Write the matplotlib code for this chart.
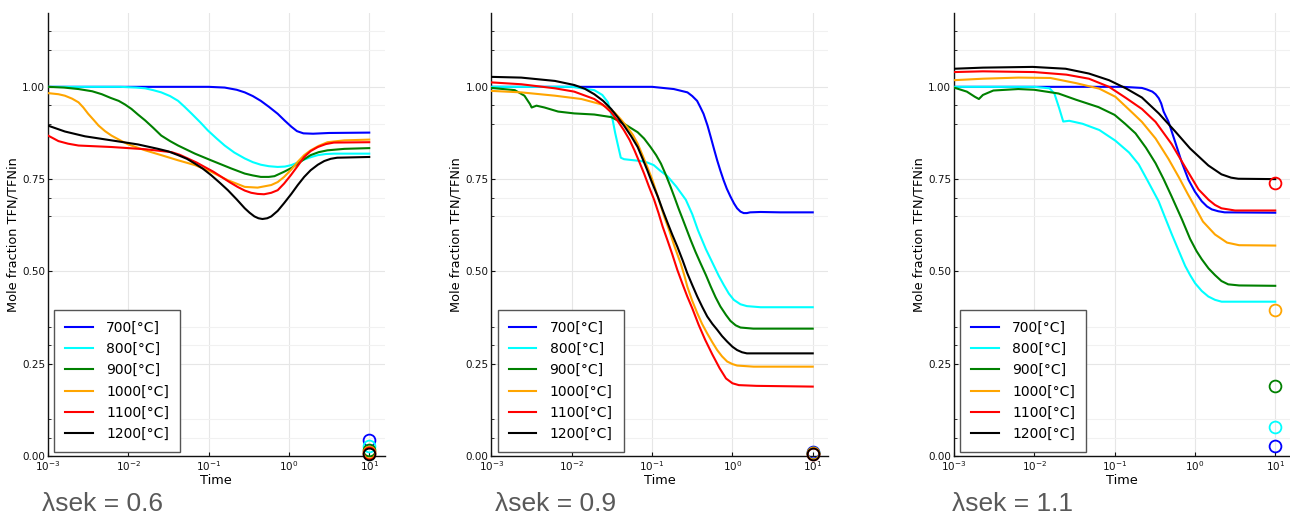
import matplotlib
matplotlib.use("Agg")
import matplotlib.pyplot as plt
import numpy as np
from matplotlib.ticker import NullLocator, FixedLocator

# 温度系列与颜色
TEMPS = ["700[°C]", "800[°C]", "900[°C]", "1000[°C]", "1100[°C]", "1200[°C]"]
COLORS = ["#0000ff", "#00ffff", "#008000", "#ffa500", "#ff0000", "#000000"]
LAMBDAS = ["0.6", "0.9", "1.1"]

# 曲线数据: (log10(time), TFN/TFNin)
# ---- λsek = 0.6 ----
L06_700 = [(-3, 1.0), (-1.0, 1.0), (-0.8, 0.998), (-0.65, 0.992), (-0.55, 0.985), (-0.45, 0.975),
           (-0.35, 0.962), (-0.25, 0.946), (-0.14, 0.927), (-0.05, 0.908), (0.03, 0.892), (0.1, 0.88),
           (0.18, 0.874), (0.3, 0.873), (0.5, 0.875), (1.0, 0.876)]
L06_800 = [(-3, 1.0), (-2.1, 1.0), (-1.9, 0.998), (-1.79, 0.996), (-1.69, 0.991), (-1.59, 0.985),
           (-1.48, 0.975), (-1.38, 0.962), (-1.3, 0.946), (-1.21, 0.927), (-1.1, 0.903), (-1.01, 0.882),
           (-0.9, 0.86), (-0.8, 0.841), (-0.68, 0.822), (-0.55, 0.806), (-0.45, 0.796), (-0.35, 0.789),
           (-0.25, 0.785), (-0.14, 0.783), (-0.05, 0.784), (0.03, 0.788), (0.11, 0.795), (0.19, 0.803),
           (0.28, 0.81), (0.36, 0.815), (0.46, 0.818), (0.56, 0.819), (1.0, 0.819)]
L06_900 = [(-3, 1.0), (-2.8, 0.998), (-2.62, 0.994), (-2.45, 0.988), (-2.33, 0.98), (-2.22, 0.97),
           (-2.12, 0.962), (-2.04, 0.952), (-1.96, 0.94), (-1.88, 0.925), (-1.79, 0.909), (-1.69, 0.889),
           (-1.59, 0.868), (-1.48, 0.853), (-1.38, 0.841), (-1.17, 0.819), (-0.97, 0.801), (-0.72, 0.779),
           (-0.55, 0.765), (-0.45, 0.76), (-0.35, 0.756), (-0.25, 0.756), (-0.18, 0.758), (-0.06, 0.77),
           (0.03, 0.78), (0.11, 0.792), (0.19, 0.804), (0.27, 0.815), (0.37, 0.823), (0.48, 0.828),
           (0.69, 0.832), (1.0, 0.834)]
L06_1000 = [(-3, 0.983), (-2.87, 0.98), (-2.79, 0.976), (-2.7, 0.968), (-2.62, 0.958), (-2.56, 0.944),
            (-2.5, 0.927), (-2.43, 0.91), (-2.37, 0.895), (-2.29, 0.88), (-2.21, 0.868), (-2.1, 0.855),
            (-2.0, 0.844), (-1.79, 0.828), (-1.59, 0.815), (-1.38, 0.801), (-1.17, 0.788), (-0.97, 0.77),
            (-0.76, 0.747), (-0.55, 0.729), (-0.39, 0.727), (-0.22, 0.734), (-0.14, 0.742), (-0.06, 0.756),
            (0.03, 0.776), (0.11, 0.797), (0.19, 0.815), (0.27, 0.828), (0.37, 0.84), (0.48, 0.85),
            (0.69, 0.855), (1.0, 0.857)]
L06_1100 = [(-3, 0.868), (-2.93, 0.86), (-2.87, 0.853), (-2.75, 0.846), (-2.62, 0.841), (-2.21, 0.837),
            (-1.79, 0.831), (-1.46, 0.823), (-1.36, 0.816), (-1.26, 0.806), (-1.15, 0.795), (-1.05, 0.783),
            (-0.94, 0.77), (-0.84, 0.756), (-0.74, 0.742), (-0.64, 0.729), (-0.55, 0.719), (-0.47, 0.713),
            (-0.39, 0.71), (-0.31, 0.709), (-0.22, 0.713), (-0.14, 0.72), (-0.06, 0.738), (0.025, 0.761),
            (0.11, 0.786), (0.19, 0.81), (0.27, 0.826), (0.36, 0.837), (0.46, 0.845), (0.56, 0.849),
            (1.0, 0.85)]
L06_1200 = [(-3, 0.895), (-2.79, 0.879), (-2.54, 0.866), (-2.21, 0.855), (-1.88, 0.844), (-1.63, 0.832),
            (-1.5, 0.825), (-1.38, 0.815), (-1.27, 0.805), (-1.17, 0.792), (-1.07, 0.778), (-0.97, 0.761),
            (-0.86, 0.74), (-0.76, 0.72), (-0.65, 0.695), (-0.55, 0.671), (-0.49, 0.659), (-0.43, 0.649),
            (-0.38, 0.644), (-0.33, 0.642), (-0.27, 0.644), (-0.22, 0.649), (-0.14, 0.664), (-0.06, 0.685),
            (0.03, 0.71), (0.11, 0.734), (0.19, 0.756), (0.27, 0.774), (0.36, 0.789), (0.44, 0.799),
            (0.52, 0.805), (0.6, 0.808), (1.0, 0.81)]
END06 = [0.043, 0.028, 0.017, 0.012, 0.008, 0.006]

# ---- λsek = 0.9 ----
L09_700 = [(-3, 1.0), (-1.0, 1.0), (-0.73, 0.994), (-0.56, 0.985), (-0.5, 0.975), (-0.44, 0.962),
           (-0.4, 0.945), (-0.36, 0.927), (-0.31, 0.895), (-0.27, 0.864), (-0.23, 0.832), (-0.19, 0.801),
           (-0.15, 0.773), (-0.11, 0.747), (-0.07, 0.724), (-0.025, 0.703), (0.02, 0.684), (0.058, 0.671),
           (0.1, 0.662), (0.14, 0.658), (0.18, 0.658), (0.22, 0.66), (0.35, 0.661), (0.6, 0.66), (1.0, 0.66)]
L09_800 = [(-3, 1.0), (-2.0, 1.0), (-1.72, 0.991), (-1.62, 0.978), (-1.55, 0.958), (-1.52, 0.935),
           (-1.49, 0.909), (-1.46, 0.875), (-1.43, 0.846), (-1.39, 0.808), (-1.35, 0.804), (-1.31, 0.803),
           (-1.14, 0.799), (-1.06, 0.795), (-0.98, 0.788), (-0.9, 0.773), (-0.81, 0.758), (-0.7, 0.73),
           (-0.58, 0.694), (-0.5, 0.655), (-0.43, 0.612), (-0.33, 0.56), (-0.23, 0.515), (-0.17, 0.488),
           (-0.107, 0.463), (-0.045, 0.44), (0.017, 0.423), (0.1, 0.411), (0.18, 0.406), (0.35, 0.403),
           (1.0, 0.403)]
L09_900 = [(-3, 0.997), (-2.71, 0.991), (-2.59, 0.976), (-2.52, 0.953), (-2.5, 0.944), (-2.44, 0.949),
           (-2.34, 0.944), (-2.17, 0.933), (-1.97, 0.928), (-1.72, 0.925), (-1.51, 0.918), (-1.35, 0.9),
           (-1.18, 0.877), (-1.1, 0.86), (-1.02, 0.837), (-0.95, 0.815), (-0.89, 0.792), (-0.83, 0.762),
           (-0.77, 0.729), (-0.72, 0.7), (-0.67, 0.67), (-0.62, 0.642), (-0.52, 0.585), (-0.46, 0.553),
           (-0.397, 0.522), (-0.33, 0.49), (-0.27, 0.459), (-0.21, 0.43), (-0.15, 0.405), (-0.08, 0.382),
           (-0.025, 0.366), (0.04, 0.354), (0.1, 0.348), (0.26, 0.345), (1.0, 0.345)]
L09_1000 = [(-3, 0.989), (-2.63, 0.985), (-2.21, 0.976), (-1.88, 0.967), (-1.64, 0.953), (-1.55, 0.943),
            (-1.47, 0.931), (-1.39, 0.912), (-1.31, 0.891), (-1.24, 0.87), (-1.18, 0.846), (-1.12, 0.815),
            (-1.06, 0.783), (-1.0, 0.75), (-0.955, 0.72), (-0.9, 0.683), (-0.85, 0.649), (-0.79, 0.613),
            (-0.72, 0.567), (-0.645, 0.522), (-0.6, 0.49), (-0.562, 0.459), (-0.5, 0.42), (-0.438, 0.387),
            (-0.376, 0.357), (-0.314, 0.332), (-0.25, 0.308), (-0.19, 0.287), (-0.13, 0.27), (-0.066, 0.256),
            (0.0, 0.249), (0.058, 0.245), (0.264, 0.242), (1.0, 0.242)]
L09_1100 = [(-3, 1.012), (-2.63, 1.007), (-2.21, 0.996), (-1.97, 0.987), (-1.72, 0.967), (-1.61, 0.951),
            (-1.51, 0.931), (-1.43, 0.908), (-1.35, 0.882), (-1.28, 0.856), (-1.22, 0.828), (-1.16, 0.797),
            (-1.1, 0.765), (-1.04, 0.73), (-0.975, 0.694), (-0.92, 0.658), (-0.87, 0.622), (-0.81, 0.585),
            (-0.75, 0.547), (-0.686, 0.504), (-0.62, 0.465), (-0.562, 0.432), (-0.5, 0.4), (-0.42, 0.355),
            (-0.34, 0.315), (-0.25, 0.275), (-0.16, 0.238), (-0.08, 0.21), (0.0, 0.197), (0.08, 0.192),
            (0.3, 0.19), (1.0, 0.188)]
L09_1200 = [(-3, 1.027), (-2.63, 1.025), (-2.21, 1.016), (-1.97, 1.005), (-1.84, 0.995), (-1.72, 0.98),
            (-1.61, 0.962), (-1.51, 0.94), (-1.43, 0.918), (-1.35, 0.895), (-1.26, 0.866), (-1.18, 0.837),
            (-1.12, 0.806), (-1.06, 0.774), (-1.0, 0.74), (-0.93, 0.703), (-0.87, 0.667), (-0.81, 0.633),
            (-0.75, 0.6), (-0.686, 0.567), (-0.62, 0.53), (-0.562, 0.495), (-0.5, 0.463), (-0.438, 0.432),
            (-0.376, 0.404), (-0.314, 0.378), (-0.25, 0.358), (-0.19, 0.342), (-0.13, 0.325), (-0.066, 0.31),
            (0.0, 0.296), (0.058, 0.287), (0.12, 0.281), (0.18, 0.278), (1.0, 0.278)]
END09 = [0.011, 0.009, 0.008, 0.007, 0.006, 0.005]

# ---- λsek = 1.1 ----
L11_700 = [(-3, 1.0), (-0.9, 1.0), (-0.66, 0.997), (-0.6, 0.993), (-0.53, 0.987), (-0.49, 0.98),
           (-0.45, 0.969), (-0.42, 0.955), (-0.39, 0.933), (-0.33, 0.906), (-0.245, 0.85), (-0.163, 0.795),
           (-0.08, 0.748), (0.0, 0.716), (0.085, 0.69), (0.15, 0.676), (0.21, 0.668), (0.29, 0.663),
           (0.37, 0.66), (1.0, 0.659)]
L11_800 = [(-3, 1.0), (-2.0, 1.0), (-1.81, 0.996), (-1.75, 0.982), (-1.69, 0.942), (-1.64, 0.906),
           (-1.565, 0.908), (-1.4, 0.9), (-1.19, 0.883), (-0.99, 0.854), (-0.82, 0.822), (-0.7, 0.79),
           (-0.575, 0.74), (-0.452, 0.69), (-0.37, 0.645), (-0.287, 0.6), (-0.2, 0.555), (-0.122, 0.515),
           (-0.06, 0.49), (0.002, 0.468), (0.085, 0.447), (0.167, 0.432), (0.25, 0.423), (0.332, 0.418),
           (1.0, 0.418)]
L11_900 = [(-3, 0.998), (-2.84, 0.987), (-2.74, 0.973), (-2.69, 0.967), (-2.64, 0.978), (-2.51, 0.99),
           (-2.2, 0.994), (-2.0, 0.992), (-1.7, 0.982), (-1.48, 0.965), (-1.2, 0.945), (-1.0, 0.924),
           (-0.87, 0.9), (-0.74, 0.874), (-0.61, 0.835), (-0.49, 0.793), (-0.39, 0.75), (-0.29, 0.703),
           (-0.16, 0.64), (-0.06, 0.588), (0.02, 0.555), (0.085, 0.533), (0.17, 0.508), (0.25, 0.49),
           (0.33, 0.474), (0.414, 0.465), (0.55, 0.462), (1.0, 0.461)]
L11_1000 = [(-3, 1.018), (-2.64, 1.022), (-2.2, 1.025), (-1.8, 1.024), (-1.48, 1.01), (-1.19, 0.995),
            (-0.99, 0.973), (-0.78, 0.93), (-0.66, 0.905), (-0.49, 0.86), (-0.33, 0.805), (-0.2, 0.755),
            (-0.09, 0.71), (0.0, 0.675), (0.1, 0.635), (0.25, 0.6), (0.4, 0.578), (0.55, 0.571),
            (1.0, 0.57)]
L11_1100 = [(-3, 1.04), (-2.64, 1.042), (-2.0, 1.04), (-1.6, 1.033), (-1.32, 1.022), (-1.07, 1.0),
            (-0.86, 0.97), (-0.66, 0.94), (-0.49, 0.905), (-0.29, 0.845), (-0.12, 0.782), (0.045, 0.722),
            (0.17, 0.694), (0.25, 0.68), (0.33, 0.671), (0.5, 0.665), (1.0, 0.665)]
L11_1200 = [(-3, 1.049), (-2.64, 1.052), (-2.02, 1.054), (-1.61, 1.049), (-1.32, 1.036), (-1.07, 1.018),
            (-0.86, 0.996), (-0.66, 0.971), (-0.45, 0.928), (-0.245, 0.879), (-0.06, 0.833), (0.167, 0.787),
            (0.33, 0.763), (0.45, 0.754), (0.54, 0.751), (1.0, 0.75)]
END11 = [0.028, 0.079, 0.19, 0.396, 0.739, None]

CURVES = [
    [L06_700, L06_800, L06_900, L06_1000, L06_1100, L06_1200],
    [L09_700, L09_800, L09_900, L09_1000, L09_1100, L09_1200],
    [L11_700, L11_800, L11_900, L11_1000, L11_1100, L11_1200],
]
ENDS = [END06, END09, END11]
END_TIME = 10.0

YTICKS = [0.0, 0.25, 0.5, 0.75, 1.0]
YMINOR = [0.05, 0.10, 0.30, 0.35, 0.65, 0.70, 0.90, 0.95, 1.10, 1.15]

W, H = 1290, 518
fig = plt.figure(figsize=(W / 100, H / 100), dpi=100)
lefts = [48, 491.5, 954]

for k, left in enumerate(lefts):
    ax = fig.add_axes([left / W, 62 / H, 336.5 / W, 443 / H])
    for curve, color, label in zip(CURVES[k], COLORS, TEMPS):
        arr = np.array(curve)
        ax.plot(10 ** arr[:, 0], arr[:, 1], color=color, lw=1.5, label=label, zorder=3)
    for val, color in zip(ENDS[k], COLORS):
        if val is None:
            continue
        ax.plot([END_TIME], [val], "o", mfc="none", mec=color, ms=8.5, mew=1.3,
                clip_on=False, zorder=4)

    ax.set_xscale("log")
    ax.set_xlim(1e-3, 10 ** 1.19)
    ax.set_ylim(0, 1.2)
    ax.xaxis.set_minor_locator(NullLocator())
    ax.set_yticks(YTICKS)
    ax.set_yticklabels([f"{v:.2f}" for v in YTICKS])
    ax.yaxis.set_minor_locator(FixedLocator(YMINOR))
    ax.grid(which="major", color="#e6e6e6", lw=0.8, zorder=0)
    ax.grid(which="minor", axis="y", color="#f1f1f1", lw=0.8, zorder=0)
    ax.set_axisbelow(True)
    for s in ("top", "right"):
        ax.spines[s].set_visible(False)
    for s in ("left", "bottom"):
        ax.spines[s].set_color("#111111")
        ax.spines[s].set_linewidth(1.0)
    ax.tick_params(which="major", direction="in", length=3, width=0.8, labelsize=7.5,
                   colors="#111111", pad=2)
    ax.tick_params(which="minor", direction="in", length=2, width=0.6, colors="#111111")
    ax.set_xlabel("Time", fontsize=9.3, labelpad=1)
    ax.set_ylabel("Mole fraction TFN/TFNin", fontsize=9.3)
    ax.yaxis.set_label_coords(-0.085, 0.5)

    leg = ax.legend(loc="lower left", bbox_to_anchor=(6 / 336, 4 / 443), borderaxespad=0,
                    fontsize=10, frameon=True, fancybox=False, framealpha=1,
                    edgecolor="#555555", borderpad=0.8, handlelength=2.0,
                    handletextpad=0.95, labelspacing=0.52)
    leg.get_frame().set_linewidth(1.0)
    leg.set_zorder(5)

text_x = [42, 495, 952]
for x, lam in zip(text_x, LAMBDAS):
    fig.text(x / W, 7 / H, f"λsek = {lam}", fontsize=19, color="#595959",
             family=["Liberation Sans", "DejaVu Sans"], va="baseline", ha="left")

fig.savefig("out.png", dpi=100)
